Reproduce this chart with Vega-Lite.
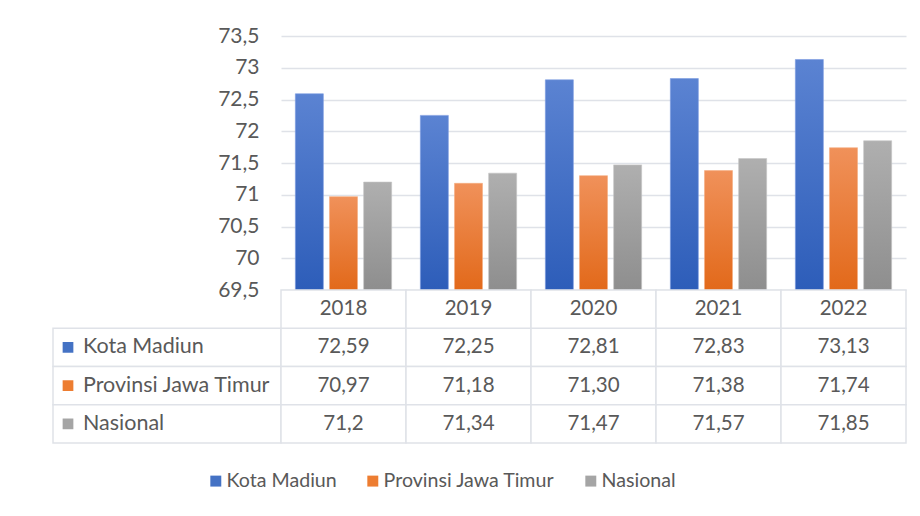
{
  "$schema": "https://vega.github.io/schema/vega-lite/v6.json",
  "background": "white",
  "padding": {"left": 52, "top": 25, "right": 15, "bottom": 0},
  "autosize": {"type": "pad"},
  "config": {
    "view": {"stroke": null},
    "font": "Lato",
    "text": {"font": "Lato", "color": "#595959"},
    "axis": {"labelFont": "Lato"},
    "legend": {"labelFont": "Lato"}
  },
  "datasets": {
    "d": [
      {"year": "2018", "series": "Kota Madiun", "value": 72.59, "label": "72,59"},
      {"year": "2019", "series": "Kota Madiun", "value": 72.25, "label": "72,25"},
      {"year": "2020", "series": "Kota Madiun", "value": 72.81, "label": "72,81"},
      {"year": "2021", "series": "Kota Madiun", "value": 72.83, "label": "72,83"},
      {"year": "2022", "series": "Kota Madiun", "value": 73.13, "label": "73,13"},
      {"year": "2018", "series": "Provinsi Jawa Timur", "value": 70.97, "label": "70,97"},
      {"year": "2019", "series": "Provinsi Jawa Timur", "value": 71.18, "label": "71,18"},
      {"year": "2020", "series": "Provinsi Jawa Timur", "value": 71.30, "label": "71,30"},
      {"year": "2021", "series": "Provinsi Jawa Timur", "value": 71.38, "label": "71,38"},
      {"year": "2022", "series": "Provinsi Jawa Timur", "value": 71.74, "label": "71,74"},
      {"year": "2018", "series": "Nasional", "value": 71.2, "label": "71,2"},
      {"year": "2019", "series": "Nasional", "value": 71.34, "label": "71,34"},
      {"year": "2020", "series": "Nasional", "value": 71.47, "label": "71,47"},
      {"year": "2021", "series": "Nasional", "value": 71.57, "label": "71,57"},
      {"year": "2022", "series": "Nasional", "value": 71.85, "label": "71,85"}
    ],
    "s": [
      {"series": "Kota Madiun"},
      {"series": "Provinsi Jawa Timur"},
      {"series": "Nasional"}
    ]
  },
  "columns": 2,
  "spacing": 0,
  "bounds": "flush",
  "align": "each",
  "resolve": {"scale": {"x": "independent", "y": "independent", "color": "independent"}},
  "concat": [
    {
      "width": 228,
      "height": 254,
      "data": {"values": [{"t": ""}]},
      "mark": {"type": "text"},
      "encoding": {"text": {"field": "t"}}
    },
    {
      "width": 625,
      "height": 254,
      "data": {"name": "d"},
      "encoding": {
        "x": {"field": "year", "type": "nominal", "scale": {"paddingInner": 0, "paddingOuter": 0}, "axis": null},
        "xOffset": {"field": "series", "type": "nominal", "scale": {"domain": ["Kota Madiun", "Provinsi Jawa Timur", "Nasional"], "paddingInner": 0.18, "paddingOuter": 0.42}},
        "y": {
          "field": "value", "type": "quantitative",
          "scale": {"domain": [69.5, 73.5], "zero": false, "nice": false},
          "axis": {
            "values": [69.5, 70, 70.5, 71, 71.5, 72, 72.5, 73, 73.5],
            "labelExpr": "replace(toString(datum.value), '.', ',')",
            "domain": false, "ticks": false, "labelPadding": 22,
            "grid": true, "gridColor": "#dfe2e8", "gridWidth": 1.5,
            "labelFontSize": 21, "labelColor": "#595959", "title": null
          }
        },
        "y2": {"datum": 69.5}
      },
      "layer": [
        {
          "transform": [{"filter": "datum.series === 'Kota Madiun'"}],
          "mark": {"type": "bar", "stroke": "#7a9be0", "strokeWidth": 0.6, "color": {"gradient": "linear", "x1": 0, "y1": 0, "x2": 0, "y2": 1, "stops": [{"offset": 0, "color": "#5b83d2"}, {"offset": 1, "color": "#2d5db9"}]}}
        },
        {
          "transform": [{"filter": "datum.series === 'Provinsi Jawa Timur'"}],
          "mark": {"type": "bar", "stroke": "#f5ad80", "strokeWidth": 0.6, "color": {"gradient": "linear", "x1": 0, "y1": 0, "x2": 0, "y2": 1, "stops": [{"offset": 0, "color": "#f0915a"}, {"offset": 1, "color": "#e2691a"}]}}
        },
        {
          "transform": [{"filter": "datum.series === 'Nasional'"}],
          "mark": {"type": "bar", "stroke": "#c4c4c4", "strokeWidth": 0.6, "color": {"gradient": "linear", "x1": 0, "y1": 0, "x2": 0, "y2": 1, "stops": [{"offset": 0, "color": "#afafaf"}, {"offset": 1, "color": "#8e8e8e"}]}}
        }
      ]
    },
    {
      "width": 228,
      "height": 153,
      "data": {"name": "s"},
      "layer": [
        {
          "mark": {"type": "rect", "fill": "white", "stroke": "#dfe2e8", "strokeWidth": 1.5},
          "encoding": {
            "y": {"field": "series", "type": "nominal", "scale": {"domain": ["hdr", "Kota Madiun", "Provinsi Jawa Timur", "Nasional"], "paddingInner": 0, "paddingOuter": 0}, "axis": null}
          }
        },
        {
          "mark": {"type": "square", "size": 115, "filled": true, "opacity": 1},
          "encoding": {
            "x": {"value": 15},
            "y": {"field": "series", "type": "nominal", "axis": null},
            "color": {
              "field": "series", "type": "nominal",
              "scale": {"domain": ["Kota Madiun", "Provinsi Jawa Timur", "Nasional"], "range": ["#4472c4", "#ed7d31", "#a5a5a5"]},
              "legend": {
                "orient": "none", "legendX": 153, "legendY": 181, "direction": "horizontal",
                "title": null, "symbolType": "square", "symbolSize": 120, "symbolOpacity": 1,
                "labelFontSize": 19.6, "labelColor": "#595959", "labelLimit": 400, "columnPadding": 26, "labelOffset": 1, "padding": 0
              }
            }
          }
        },
        {
          "mark": {"type": "text", "align": "left", "baseline": "middle", "fontSize": 21.5},
          "encoding": {
            "x": {"value": 30},
            "y": {"field": "series", "type": "nominal", "axis": null},
            "text": {"field": "series"}
          }
        }
      ]
    },
    {
      "width": 625,
      "height": 153,
      "data": {"name": "d"},
      "encoding": {
        "x": {"field": "year", "type": "nominal", "scale": {"paddingInner": 0, "paddingOuter": 0}, "axis": null}
      },
      "layer": [
        {
          "mark": {"type": "rect", "fill": "white", "stroke": "#dfe2e8", "strokeWidth": 1.5},
          "encoding": {
            "y": {"field": "series", "type": "nominal", "scale": {"domain": ["hdr", "Kota Madiun", "Provinsi Jawa Timur", "Nasional"], "paddingInner": 0, "paddingOuter": 0}, "axis": null}
          }
        },
        {
          "transform": [{"filter": "datum.series === 'Kota Madiun'"}],
          "mark": {"type": "rect", "fill": "white", "stroke": "#dfe2e8", "strokeWidth": 1.5},
          "encoding": {"y": {"datum": "hdr", "type": "nominal"}}
        },
        {
          "transform": [{"filter": "datum.series === 'Kota Madiun'"}],
          "mark": {"type": "text", "baseline": "middle", "fontSize": 20.5},
          "encoding": {"y": {"datum": "hdr", "type": "nominal"}, "text": {"field": "year"}}
        },
        {
          "mark": {"type": "text", "baseline": "middle", "fontSize": 20.5},
          "encoding": {"y": {"field": "series", "type": "nominal"}, "text": {"field": "label"}}
        }
      ]
    }
  ]
}
